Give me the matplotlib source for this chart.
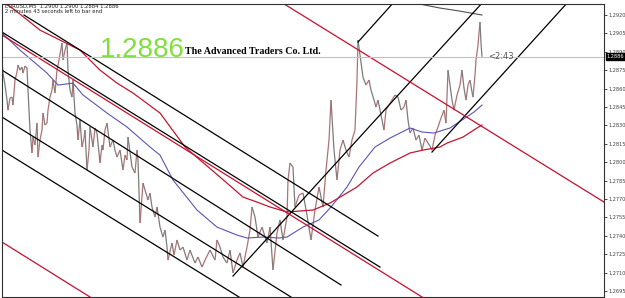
import matplotlib
matplotlib.use("Agg")
import matplotlib.pyplot as plt
import matplotlib.collections as clt
import numpy as np

# bar index and close price of the EURUSD M5 series
bars = [2, 3, 5, 7, 8, 10, 12, 13, 15, 17, 18, 20, 22, 23, 25, 27, 28, 30, 32, 33,
        35, 37, 38, 40, 42, 43, 45, 47, 48, 50, 52, 53, 55, 57, 59, 62, 63, 65, 67, 68,
        70, 72, 73, 75, 77, 78, 80, 82, 84, 85, 87, 89, 90, 92, 93, 95, 97, 100, 102, 103,
        105, 107, 110, 113, 115, 117, 120, 123, 125, 127, 128, 130, 132, 135, 137, 138,
        140, 143, 145, 148, 150, 152, 155, 157, 160, 163, 165, 167, 168, 172, 174, 177,
        180, 183, 187, 190, 195, 198, 202, 205, 210, 215, 217, 220, 223, 227, 230, 233,
        237, 240, 243, 247, 250, 252, 255, 258, 262, 267, 270, 273, 277, 280, 283, 287,
        288, 290, 293, 295, 299, 303, 307, 311, 315, 319, 323, 326, 329, 331, 334, 337,
        340, 343, 346, 349, 352, 355, 357, 358, 360, 363, 366, 369, 371, 374, 376, 378,
        380, 382, 384, 386, 389, 392, 395, 398, 401, 404, 406, 408, 410, 413, 416, 419,
        422, 425, 428, 430, 432, 435, 438, 441, 444, 446, 448, 450, 452, 454, 457, 460,
        462, 464, 466, 468, 470, 472, 473, 475, 476, 478, 479, 480, 481, 482]
close = [1.28817, 1.28727, 1.28629, 1.28507, 1.28425, 1.28523, 1.28531, 1.28466, 1.28670, 1.28735,
         1.28792, 1.28751, 1.28776, 1.28727, 1.28784, 1.28768, 1.28588, 1.28262, 1.28075, 1.28205,
         1.28140, 1.28319, 1.28042, 1.28181, 1.28262, 1.28401, 1.28303, 1.28319, 1.28425, 1.28531,
         1.28588, 1.28670, 1.28564, 1.28751, 1.28833, 1.28971, 1.28833, 1.28914, 1.28971, 1.28751,
         1.28588, 1.28531, 1.28670, 1.28401, 1.28303, 1.28181, 1.28344, 1.28124, 1.28197, 1.28262,
         1.27936, 1.28099, 1.28287, 1.28181, 1.28124, 1.28279, 1.28238, 1.27993, 1.28140, 1.28099,
         1.28262, 1.28319, 1.28124, 1.28181, 1.28099, 1.28042, 1.28099, 1.27936, 1.28058, 1.28018,
         1.28205, 1.28083, 1.27961, 1.27912, 1.28099, 1.28018,
         1.27504, 1.27830, 1.27773, 1.27692, 1.27749, 1.27635, 1.27553, 1.27635, 1.27471, 1.27390,
         1.27447, 1.27308, 1.27202, 1.27341, 1.27243, 1.27366, 1.27284, 1.27308, 1.27202, 1.27284,
         1.27178, 1.27227, 1.27145, 1.27202, 1.27284, 1.27202, 1.27366, 1.27308, 1.27227, 1.27178,
         1.27284, 1.27097, 1.27202, 1.27260, 1.27145, 1.27308, 1.27447, 1.27635, 1.27553, 1.27390,
         1.27471, 1.27341, 1.27471, 1.27121, 1.27423, 1.27529, 1.27366, 1.27553, 1.27855, 1.27993,
         1.27961, 1.27635, 1.27732, 1.27749, 1.27569, 1.27366, 1.27610, 1.27798, 1.27635, 1.27936,
         1.28181, 1.28507, 1.28099, 1.27855, 1.28099, 1.28181, 1.28099, 1.28042, 1.28181, 1.28262,
         1.28670, 1.28996, 1.28874, 1.28694, 1.28629, 1.28670, 1.28588, 1.28507, 1.28450, 1.28507,
         1.28425, 1.28344, 1.28262, 1.28425, 1.28466, 1.28507, 1.28548, 1.28531, 1.28425, 1.28450,
         1.28507, 1.28344, 1.28238, 1.28279, 1.28181, 1.28221, 1.28099, 1.28197, 1.28156, 1.28132,
         1.28099, 1.28221, 1.28287, 1.28360, 1.28425, 1.28319, 1.28751, 1.28629, 1.28507, 1.28425,
         1.28548, 1.28629, 1.28751, 1.28605, 1.28507, 1.28629, 1.28670, 1.28572, 1.28531, 1.28711,
         1.28833, 1.28955, 1.29053, 1.29143, 1.28971, 1.28860]

# moving averages
fast_ma_x = [2, 20, 47, 58, 73, 83, 107, 127, 150, 160, 173, 197, 217, 237, 247, 263, 279, 287,
             303, 319, 331, 347, 359, 375, 390, 410, 422, 434, 450, 462, 474, 482]
fast_ma = [1.29053, 1.28914, 1.28727, 1.28629, 1.28645, 1.28548, 1.28401, 1.28287, 1.28124, 1.28058,
           1.27855, 1.27610, 1.27471, 1.27406, 1.27382, 1.27390, 1.27382, 1.27390, 1.27471, 1.27529,
           1.27635, 1.27798, 1.27961, 1.28124, 1.28197, 1.28279, 1.28246, 1.28238, 1.28279, 1.28344,
           1.28409, 1.28466]
slow_ma_x = [5, 15, 40, 60, 80, 100, 117, 133, 160, 185, 200, 220, 243, 257, 270, 287, 300, 313,
             330, 357, 373, 390, 410, 423, 440, 447, 463, 477, 482]
slow_ma = [1.29298, 1.29240, 1.29077, 1.28996, 1.28914, 1.28751, 1.28645, 1.28564, 1.28401, 1.28124,
           1.28018, 1.27879, 1.27716, 1.27675, 1.27635, 1.27594, 1.27602, 1.27610, 1.27667, 1.27798,
           1.27912, 1.27993, 1.28075, 1.28099, 1.28124, 1.28156, 1.28205, 1.28279, 1.28303]
long_ma_x = [404, 420, 440, 460, 482]
long_ma = [1.29298, 1.29289, 1.29257, 1.29232, 1.29200]

# hand drawn channels: (bar0, price0, bar1, price1)
black_lines = [(24, 1.29200, 378, 1.27398),
               (2, 1.29061, 380, 1.27145),
               (2, 1.28751, 341, 1.26999),
               (2, 1.28368, 291, 1.26901),
               (2, 1.28099, 239, 1.26901),
               (233, 1.27072, 483, 1.29306),
               (358, 1.28980, 394, 1.29306),
               (432, 1.28083, 568, 1.29306)]
red_lines = [(2, 1.29037, 422, 1.26901),
             (281, 1.29306, 604, 1.27675),
             (2, 1.27349, 90, 1.26901)]

last_price = 1.2886
yticks = np.arange(1.2695, 1.29201, 0.0015)

fig = plt.figure(figsize=(6.25, 2.98), dpi=100, facecolor='white')
ax = fig.add_axes([2/625, 1/298, 602/625, 293/298])
ax.set_xlim(2, 604)
ax.set_ylim(1.26901, 1.29290)

# price line, up moves brown, down moves gray
pts = np.column_stack([bars, close])
segs = np.stack([pts[:-1], pts[1:]], axis=1)
cols = ['#b07272' if b > a else '#7c7c7c' for a, b in zip(close[:-1], close[1:])]
ax.add_collection(clt.LineCollection(segs, colors=cols, linewidths=0.9))

ax.plot(fast_ma_x, fast_ma, color='#5a55b5', lw=0.8)
ax.plot(slow_ma_x, slow_ma, color='#c0182e', lw=0.9)
ax.plot(long_ma_x, long_ma, color='#505050', lw=0.8)

for x0, y0, x1, y1 in black_lines:
    ax.plot([x0, x1], [y0, y1], color='black', lw=0.9)
for x0, y0, x1, y1 in red_lines:
    ax.plot([x0, x1], [y0, y1], color='#c8102e', lw=0.9)

ax.axhline(last_price, color='#c0c0c0', lw=0.8)
ax.text(488, last_price, '<2:43', fontsize=6, va='center', color='#555555')

ax.yaxis.tick_right()
ax.set_yticks(yticks)
ax.set_yticklabels(['%.4f' % v for v in yticks])
ax.tick_params(axis='y', labelsize=3.6, length=2, width=0.5, pad=1.5, labelcolor='#404040')
ax.set_xticks([])
for s in ax.spines.values():
    s.set_linewidth(0.8)
    s.set_color('#303030')

ax.text(1.004, last_price, '%.4f' % last_price, transform=ax.get_yaxis_transform(),
        fontsize=3.6, color='white', va='center', ha='left',
        bbox=dict(facecolor='black', edgecolor='black', pad=0.6))

fig.text(100/625, 1-57/298, '1.2886', fontsize=20, color='#7fe03c', va='baseline',
         family='Liberation Sans')
fig.text(185/625, 1-54/298, 'The Advanced Traders Co. Ltd.', fontsize=7.2, weight='bold',
         family='Liberation Serif', va='baseline')
fig.text(5/625, 1-8/298, 'EURUSD,M5  1.2900 1.2900 1.2884 1.2886', fontsize=3.8,
         va='baseline', color='#222222')
fig.text(5/625, 1-13/298, '2 minutes 43 seconds left to bar end', fontsize=3.8,
         va='baseline', color='#222222')

fig.savefig('out.png', dpi=100, facecolor='white')
